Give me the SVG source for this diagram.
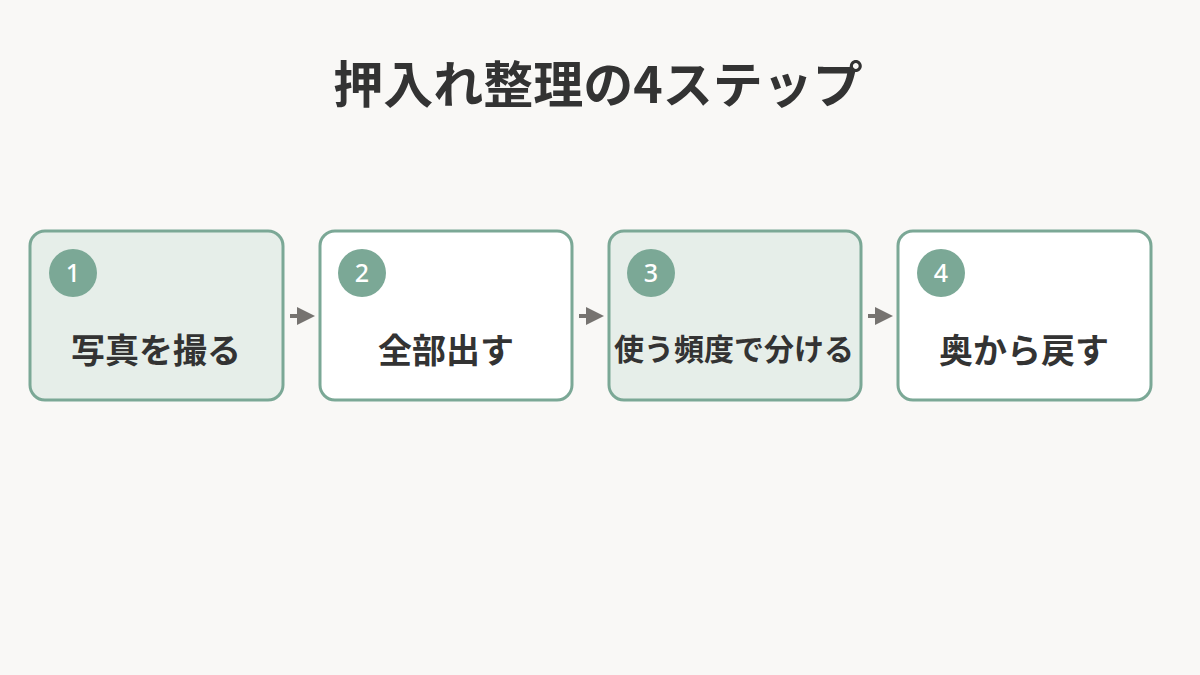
<svg xmlns="http://www.w3.org/2000/svg" width="1200" height="675" viewBox="0 0 1200 675">
<defs>
<style>
.bg{fill:#f9f8f6}
.box{stroke:#7ba896;stroke-width:3}
.hl{fill:#e6eee9}
.pl{fill:#ffffff}
.num{fill:#7ba896}
.numt{font-family:"Noto Sans","Noto Sans CJK JP",sans-serif;font-weight:500;font-size:25px;fill:#ffffff;text-anchor:middle}
.lbl{font-family:"Noto Sans CJK JP",sans-serif;font-weight:700;fill:#333333;text-anchor:middle}
.title{font-family:"Noto Sans CJK JP",sans-serif;font-weight:700;font-size:50px;fill:#333333;text-anchor:middle}
.conn{stroke:#767370;stroke-width:4;fill:none}
.head{fill:#767370}
</style>
</defs>
<rect class="bg" x="0" y="0" width="1200" height="675"/>
<text class="title" x="598" y="103">押入れ整理の4ステップ</text>
<g id="connectors">
<line class="conn" x1="290" y1="316" x2="299" y2="316"/>
<polygon class="head" points="297,307 315,316 297,325"/>
<line class="conn" x1="579" y1="316" x2="588" y2="316"/>
<polygon class="head" points="586,307 604,316 586,325"/>
<line class="conn" x1="868" y1="316" x2="877" y2="316"/>
<polygon class="head" points="875,307 893,316 875,325"/>
</g>
<g id="step1">
<rect class="box hl" x="30" y="231" width="253" height="169" rx="15"/>
<circle class="num" cx="73" cy="273" r="24"/>
<text class="numt" x="73" y="282">1</text>
<text class="lbl" x="156" y="363" font-size="34">写真を撮る</text>
</g>
<g id="step2">
<rect class="box pl" x="320" y="231" width="252" height="169" rx="15"/>
<circle class="num" cx="362" cy="273" r="24"/>
<text class="numt" x="362" y="282">2</text>
<text class="lbl" x="446" y="363" font-size="34">全部出す</text>
</g>
<g id="step3">
<rect class="box hl" x="609" y="231" width="252" height="169" rx="15"/>
<circle class="num" cx="651" cy="273" r="24"/>
<text class="numt" x="651" y="282">3</text>
<text class="lbl" x="734" y="360" font-size="30">使う頻度で分ける</text>
</g>
<g id="step4">
<rect class="box pl" x="898" y="231" width="253" height="169" rx="15"/>
<circle class="num" cx="941" cy="273" r="24"/>
<text class="numt" x="941" y="282">4</text>
<text class="lbl" x="1024" y="363" font-size="34">奥から戻す</text>
</g>
</svg>
